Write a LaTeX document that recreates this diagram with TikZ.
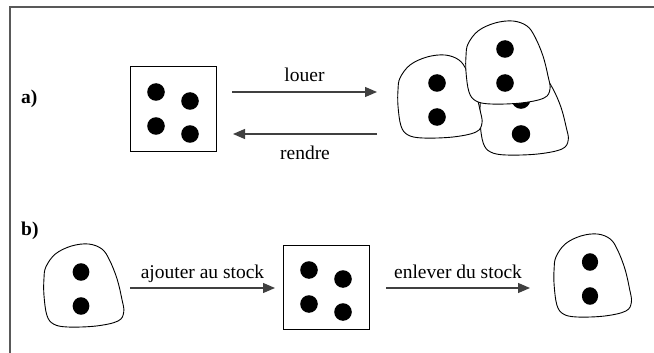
\documentclass[tikz,border=0pt]{standalone}
\usepackage{fontspec}
\setmainfont{Liberation Serif}
\usetikzlibrary{arrows.meta}

\begin{document}
\begin{tikzpicture}[x=1pt,y=-1pt,
    txt/.style={font=\fontsize{19.5}{23}\selectfont, inner sep=0pt},
    tag/.style={font=\fontsize{19.5}{23}\selectfont\bfseries, inner sep=0pt, anchor=base west},
    arr/.style={draw=black!75, line width=1.3pt, -{Triangle[length=12pt,width=10pt]}},
    pics/stock/.style={code={
        \draw[line width=1pt] (-43,-42) rectangle (43,42);
        \foreach \dx/\dy in {-17/-17, 17/-8, -17/17, 17/25}
            \fill (\dx,\dy) circle (8.8);
    }},
    pics/loan/.style={code={
        \draw[fill=white, line width=0.9pt] plot[smooth cycle, tension=0.6] coordinates {
            (-37,-22) (-27,-35) (-10,-43) (8,-45) (22,-40) (30,-29) (38,-10) (43,10)
            (45,23) (39,32) (16,37) (-14,38) (-29,35) (-36,26) (-39,6) (-39,-10)};
        \fill (0,-17) circle (8.8);
        \fill (0,17) circle (8.8);
    }}]
    \useasboundingbox (0,0) rectangle (654,353);
    \draw[draw=black!65, line width=1.3pt] (10,353) -- (10,7) -- (654,7);

    % a) renting out and bringing back %
    \node[tag] (tagA) at (21,103) {a)};
    \pic (stockA) at (173,109) {stock};
    \pic[xscale=1.05] (loanB) at (521,117) {loan};
    \pic (loanL) at (437,100) {loan};
    \pic (loanT) at (505,66) {loan};

    \coordinate (louerS) at (232,92);
    \coordinate (louerE) at (377,92);
    \coordinate (rendreS) at (377,134);
    \coordinate (rendreE) at (233,134);
    \draw[arr] (louerS) -- (louerE) node[txt, midway, anchor=base, yshift=10pt] (lLouer) {louer};
    \draw[arr] (rendreS) -- (rendreE) node[txt, midway, anchor=base, yshift=-26pt] (lRendre) {rendre};

    % b) stock in and out %
    \node[tag] (tagB) at (21,235) {b)};
    \pic[xscale=0.95] (loanIn) at (81,289) {loan};
    \pic (stockB) at (326,287) {stock};
    \pic[xscale=0.92] (loanOut) at (590,279) {loan};

    \coordinate (ajoutS) at (130,288);
    \coordinate (ajoutE) at (275,288);
    \coordinate (enlevS) at (386,288);
    \coordinate (enlevE) at (530,288);
    \draw[arr] (ajoutS) -- (ajoutE) node[txt, midway, anchor=base, yshift=10pt] (lAjout) {ajouter au stock};
    \draw[arr] (enlevS) -- (enlevE) node[txt, midway, anchor=base, yshift=10pt] (lEnlev) {enlever du stock};
\end{tikzpicture}
\end{document}
